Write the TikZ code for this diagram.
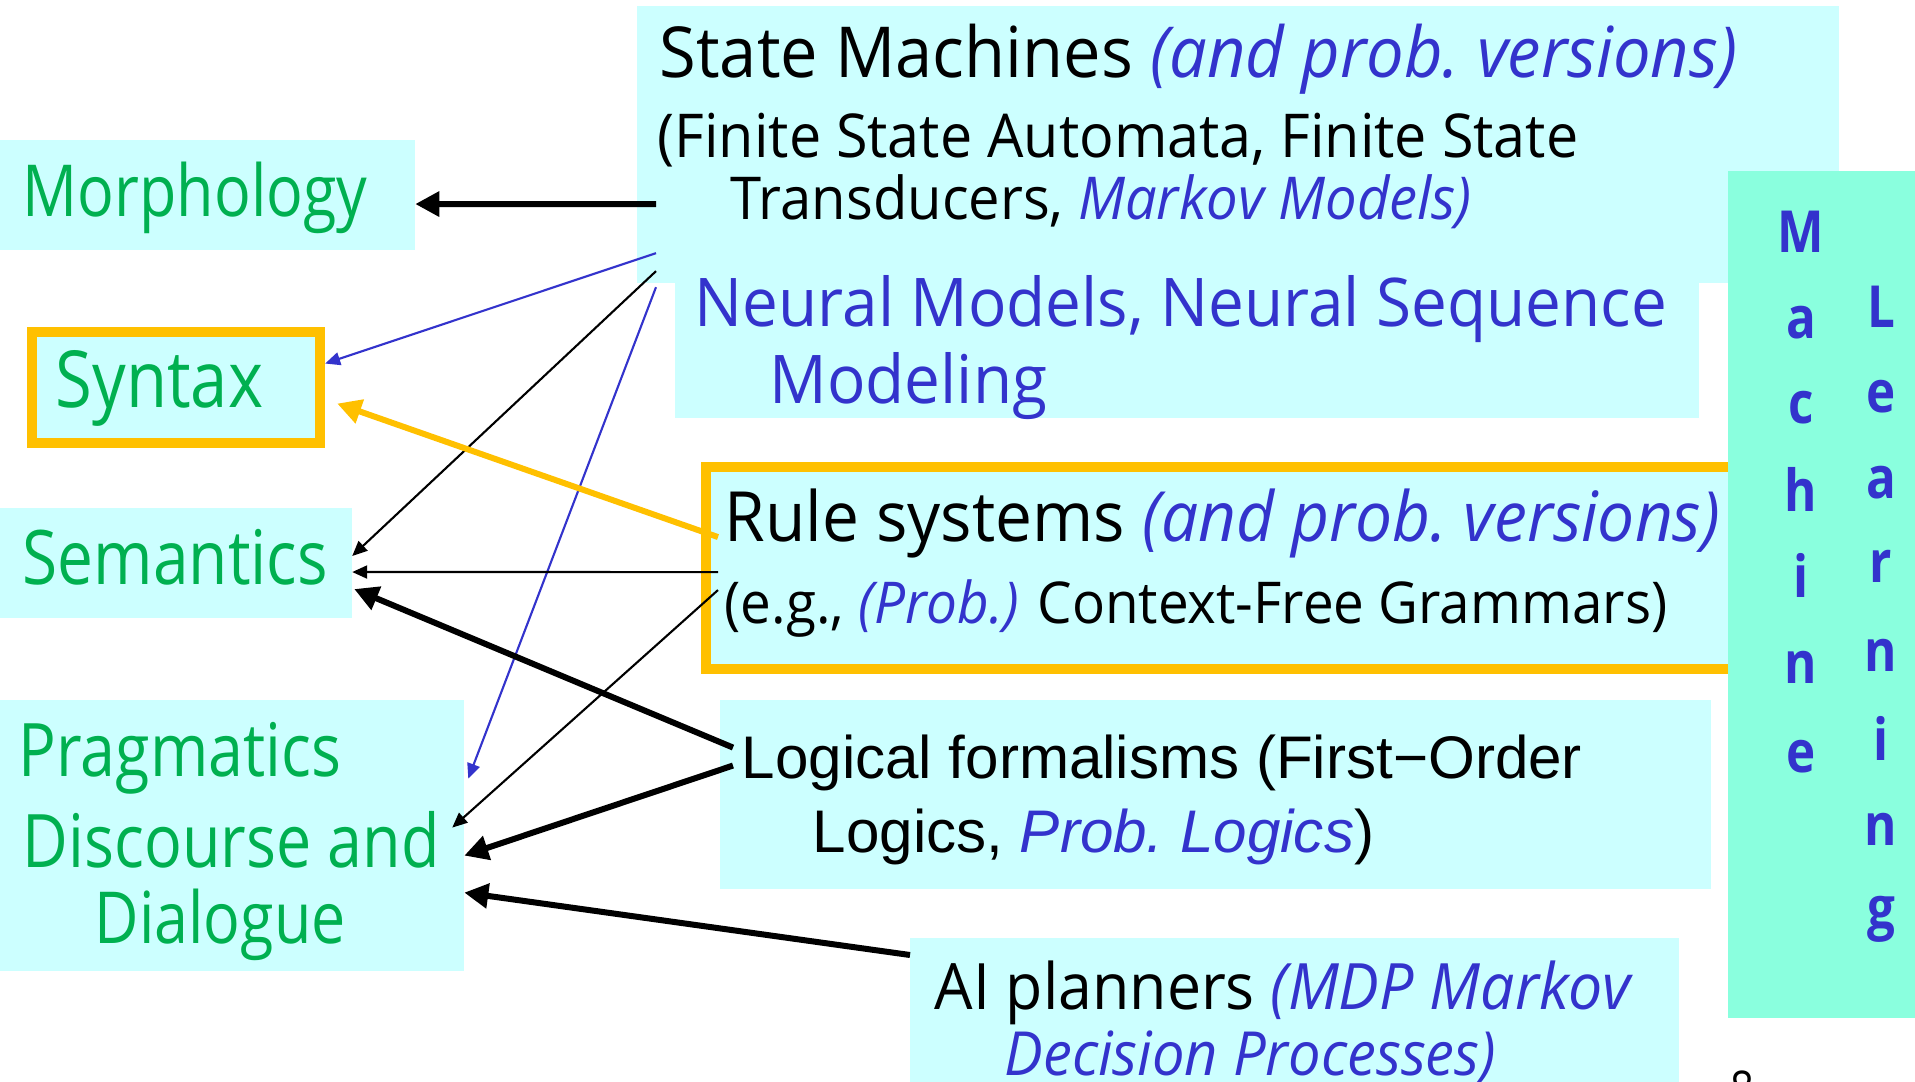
\documentclass[tikz,border=0pt]{standalone}
\usepackage{fontspec}
\usepackage{tikz}
\usetikzlibrary{arrows.meta,calc,positioning}
\newfontfamily\comic[FakeStretch=0.85]{Open Sans}
\newfontfamily\comicw[FakeStretch=0.95]{Open Sans}
\newfontfamily\gothic{Liberation Sans}
\definecolor{boxcyan}{RGB}{204,255,255}
\definecolor{mlgreen}{RGB}{138,255,222}
\definecolor{lblgreen}{RGB}{0,176,80}
\definecolor{ppblue}{RGB}{51,51,204}
\definecolor{hlorange}{RGB}{255,192,0}
\newcommand{\prob}[1]{\textcolor{ppblue}{\itshape #1}}
\newcommand{\fs}[1]{\fontsize{#1}{1.2\dimexpr#1pt\relax}\selectfont}

\begin{document}
\begin{tikzpicture}[x=0.01cm,y=-0.01cm,
  box/.style={fill=boxcyan, anchor=north west, inner sep=0pt, outer sep=0pt},
  hlbox/.style={box, draw=hlorange, line width=0.1cm},
  txt/.style={anchor=base west, inner sep=0pt},
  field/.style={txt, text=lblgreen, font=\comic\fs{21}},
  mlch/.style={anchor=mid, inner sep=0pt, text=ppblue, font=\comic\bfseries\fs{16.5}},
  arr/.style={-{Triangle[length=0.24cm,width=0.24cm]}, line width=0.06cm},
  thinarr/.style={-{Triangle[length=0.15cm,width=0.13cm]}, line width=0.6pt}
]
\useasboundingbox (0,0) rectangle (1915,1082);

% right column: methods
\node[box, minimum width=12.01cm, minimum height=2.77cm] (sm) at (637,6) {};
\node[box, minimum width=10.23cm, minimum height=1.55cm] (nn) at (675,263) {};
\node[hlbox, minimum width=10.5cm, minimum height=2.02cm] (rule) at (706,467) {};
\node[box, minimum width=9.90cm, minimum height=1.89cm] (logic) at (720,700) {};
\node[box, minimum width=7.69cm, minimum height=1.70cm] (ai) at (910,938) {};
\node[box, fill=mlgreen, minimum width=2.0cm, minimum height=8.46cm] (ml) at (1728,171) {};

% left column: levels
\node[box, minimum width=4.25cm, minimum height=1.10cm] (morph) at (-10,140) {};
\node[hlbox, minimum width=2.88cm, minimum height=1.11cm] (syn) at (32,332) {};
\node[box, minimum width=3.62cm, minimum height=1.10cm] (sem) at (-10,508) {};
\node[box, minimum width=4.74cm, minimum height=2.71cm] (prag) at (-10,700) {};

\node[field, font=\comic\fs{20.4}] (morphT) at (22,216) {Morphology};
\node[field, font=\comic\fs{22.4}] (synT) at (55,407) {Syntax};
\node[field, font=\comic\fs{21.4}] (semT) at (22,584) {Semantics};
\node[field] (pragT) at (18,776) {Pragmatics};
\node[field] (discT) at (22,867) {Discourse and};
\node[field, font=\comic\fs{20.4}] (dialT) at (94,943) {Dialogue};

\node[txt, font=\comicw\fs{20}] (smT1) at (659,78) {State Machines \prob{(and prob.\ versions)}};
\node[txt, font=\comicw\fs{17.2}] (smT2) at (657,158) {(Finite State Automata, Finite State};
\node[txt, font=\comicw\fs{16.8}] (smT3) at (730,220) {Transducers, \prob{Markov Models)}};
\node[txt, text=ppblue, font=\comicw\fs{19.1}] (nnT1) at (694,327) {Neural Models, Neural Sequence};
\node[txt, text=ppblue, font=\comicw\fs{19.1}] (nnT2) at (769,403) {Modeling};
\node[txt, font=\comicw\fs{19.7}] (ruleT1) at (724,541) {Rule systems \prob{(and prob.\ versions)}};
\node[txt, font=\comicw\fs{16.4}] (ruleT2) at (724,623) {(e.g., \prob{(Prob.)} Context-Free Grammars)};
\node[txt, font=\gothic\fs{17.1}] (logicT1) at (741,778) {Logical formalisms (First\textminus Order};
\node[txt, font=\gothic\fs{17.1}] (logicT2) at (812,852) {Logics, \prob{Prob.\ Logics})};
\node[txt, font=\comicw\fs{18.2}] (aiT1) at (934,1009) {AI planners \prob{(MDP Markov}};
\node[txt, font=\comicw\fs{17.3}] (aiT2) at (1004,1075) {\prob{Decision Processes)}};

\foreach \ch/\yy [count=\i] in {M/245,a/331,c/416,h/504,i/590,n/676,e/765}
  \node[mlch] (mla\i) at (1801,\yy) {\ch};
\foreach \ch/\yy [count=\i] in {L/320,e/405,a/491,r/575,n/664,i/753,n/838,g/921}
  \node[mlch] (mlb\i) at (1881,\yy) {\ch};

\node[anchor=north, inner sep=0pt, font=\comic\fs{14}] (pagenum) at (1742,1070) {8};

% connectors
\draw[arr] ($(sm.south west)+(19,-79)$) -- ($(morph.east)+(0,9)$);
\draw[thinarr, ppblue] ($(sm.south west)+(19,-30)$) -- ($(syn.east)+(5,-24)$);
\draw[thinarr] ($(sm.south west)+(19,-12)$) -- ($(sem.east)+(0,-7)$);
\draw[thinarr, ppblue] ($(sm.south west)+(19,4)$) -- ($(prag.east)+(4,-57)$);
\draw[arr, hlorange] ($(rule.west)+(12,-31)$) -- ($(syn.east)+(17,16)$);
\draw[thinarr] ($(rule.west)+(12,4)$) -- ($(sem.east)+(0,9)$);
\draw[thinarr] ($(rule.west)+(12,22)$) -- ($(prag.east)+(-12,-8)$);
\draw[arr] ($(logic.west)+(13,-47)$) -- ($(sem.east)+(2,26)$);
\draw[arr] ($(logic.west)+(13,-29)$) -- ($(prag.east)+(0,20)$);
\draw[arr] ($(ai.north west)+(0,17)$) -- ($(prag.east)+(0,57)$);
\end{tikzpicture}
\end{document}
